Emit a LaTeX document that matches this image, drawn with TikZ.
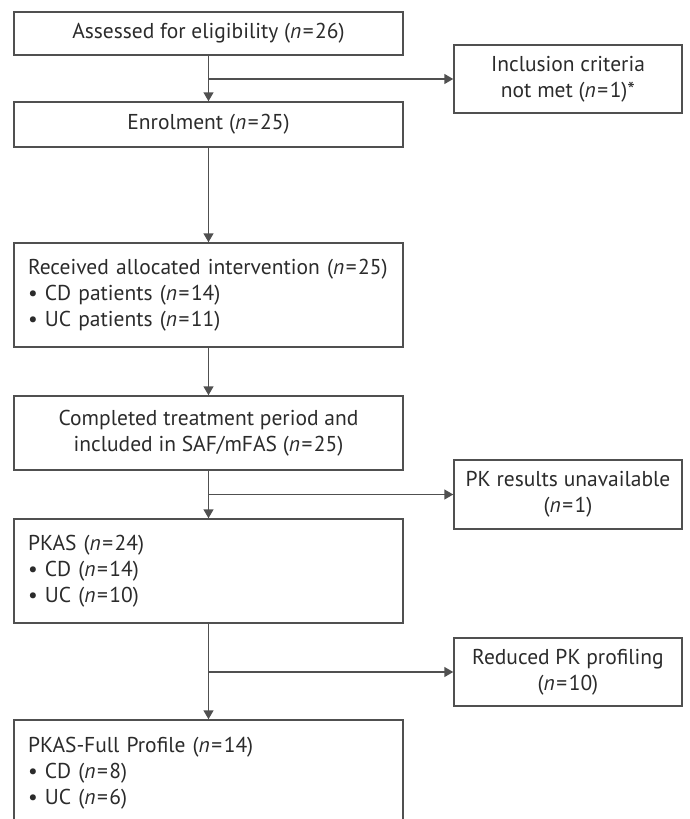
\documentclass[tikz,border=0pt]{standalone}
\usepackage{fontspec}
\setmainfont{PT Sans}
\usetikzlibrary{arrows.meta}
\definecolor{linec}{HTML}{505050}
\definecolor{textc}{HTML}{2B2B2B}
\newcommand\myeq{\kern1.5pt=\kern1.5pt}
\begin{document}
\begin{tikzpicture}[x=1pt,y=-1pt,
  box/.style={draw=linec, line width=1.5pt, text=textc, inner sep=0pt,
    font=\fontsize{21.5}{26}\selectfont},
  mainbox/.style={box, minimum width=389pt, align=center},
  leftbox/.style={box, minimum width=389pt, text width=361pt, align=left},
  sidebox/.style={box, minimum width=228pt, align=center},
  arr/.style={draw=linec, line width=1.5pt, -{Triangle[width=10pt,length=9pt]}}]
\useasboundingbox (0,0) rectangle (689,819);
\clip (0,0) rectangle (689,819);
\node[mainbox, minimum height=43pt] (b1) at (208.5,33.5) {Assessed for eligibility (\textit{n}\myeq26)};
\node[sidebox, minimum height=68pt] (s1) at (568,79) {Inclusion criteria\\not met (\textit{n}\myeq1)*};
\node[mainbox, minimum height=45pt] (b2) at (208.5,124.5) {Enrolment (\textit{n}\myeq25)};
\node[leftbox, minimum height=104pt] (b3) at (208.5,295) {Received allocated intervention (\textit{n}\myeq25)\\\textbullet\ CD patients (\textit{n}\myeq14)\\\textbullet\ UC patients (\textit{n}\myeq11)};
\node[mainbox, minimum height=74pt] (b4) at (208.5,433) {Completed treatment period and\\included in SAF/mFAS (\textit{n}\myeq25)};
\node[sidebox, minimum height=69pt] (s2) at (568,494.5) {PK results unavailable\\(\textit{n}\myeq1)};
\node[leftbox, minimum height=104pt] (b5) at (208.5,571) {PKAS (\textit{n}\myeq24)\\\textbullet\ CD (\textit{n}\myeq14)\\\textbullet\ UC (\textit{n}\myeq10)};
\node[sidebox, minimum height=68pt] (s3) at (568,672) {Reduced PK profiling\\(\textit{n}\myeq10)};
\node[leftbox, minimum height=106pt] (b6) at (208.5,773) {PKAS-Full Profile (\textit{n}\myeq14)\\\textbullet\ CD (\textit{n}\myeq8)\\\textbullet\ UC (\textit{n}\myeq6)};
\draw[arr] (b1) -- (b2);
\draw[arr] (b1.south |- s1.west) -- (s1.west);
\draw[arr] (b2) -- (b3);
\draw[arr] (b3) -- (b4);
\draw[arr] (b4) -- (b5);
\draw[arr] (b4.south |- s2.west) -- (s2.west);
\draw[arr] (b5) -- (b6);
\draw[arr] (b5.south |- s3.west) -- (s3.west);
\end{tikzpicture}
\end{document}
